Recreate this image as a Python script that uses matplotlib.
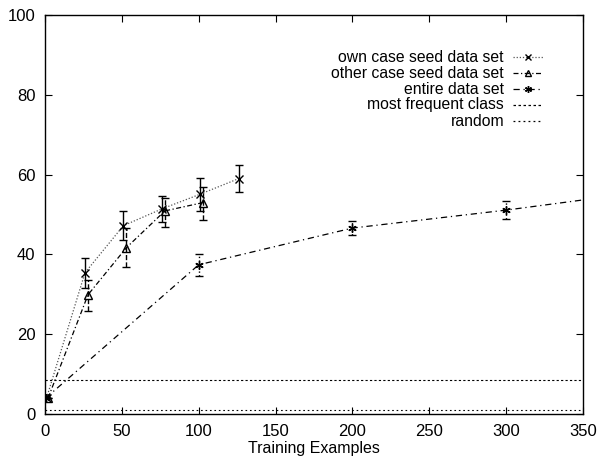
import matplotlib
matplotlib.use("Agg")
import matplotlib.pyplot as plt
from matplotlib.lines import Line2D

plt.rcParams["font.family"] = ["Liberation Sans", "DejaVu Sans"]

# own case seed data set
own_x = [1, 26, 51, 76, 101, 126]
own_y = [4.0, 35.4, 47.2, 51.4, 55.1, 59.0]
own_lo = [4.0, 31.6, 43.5, 48.0, 51.0, 55.6]
own_hi = [4.0, 39.1, 50.8, 54.6, 59.2, 62.5]

# other case seed data set
other_x = [2, 28, 53, 78, 103]
other_y = [4.0, 29.9, 41.7, 50.9, 53.0]
other_lo = [4.0, 25.9, 36.8, 46.9, 48.7]
other_hi = [4.0, 33.5, 46.5, 54.1, 57.0]

# entire data set
entire_x = [0.5, 100, 200, 300, 400]
entire_y = [4.0, 37.4, 46.6, 51.1, 56.2]
entire_lo = [4.0, 34.5, 44.9, 48.9, 53.5]
entire_hi = [4.0, 40.1, 48.3, 53.3, 59.0]

most_frequent = 8.5
random_level = 0.9

labels = ["own case seed data set", "other case seed data set", "entire data set",
          "most frequent class", "random"]

fig = plt.figure(figsize=(5.98, 4.58), dpi=100)
ax = fig.add_axes([45 / 598, 1 - 414 / 458, 538 / 598, 399 / 458])


def errs(y, lo, hi):
    return [[a - b for a, b in zip(y, lo)], [b - a for a, b in zip(y, hi)]]


styles = [
    (own_x, own_y, own_lo, own_hi, (0, (1, 1.5)), "x", "-", "#555555"),
    (other_x, other_y, other_lo, other_hi, (0, (4, 2, 1, 2)), "^", "--", "black"),
    (entire_x, entire_y, entire_lo, entire_hi, (0, (5, 3, 1, 3)), (6, 2, 0), ":", "black"),
]
keys = []
for xs, ys, lo, hi, ls, mk, els, lc in styles:
    ax.plot(xs, ys, linestyle=ls, color=lc, linewidth=0.9, marker=mk,
            markersize=6, markerfacecolor="none", markeredgecolor="black",
            markeredgewidth=1.0)
    eb = ax.errorbar(xs, ys, yerr=errs(ys, lo, hi), fmt="none", ecolor="black",
                     elinewidth=1.0, capsize=3, capthick=1.0)
    eb[2][0].set_linestyle(els)
    keys.append((ls, lc, mk))

flat_styles = [(0, (2, 2)), (0, (1.5, 2.5))]
for level, ls in zip([most_frequent, random_level], flat_styles):
    ax.axhline(level, color="black", linewidth=0.8, linestyle=ls)
    keys.append((ls, "black", None))

ax.set_xlim(0, 350)
ax.set_ylim(0, 100)
ax.set_xticks(range(0, 351, 50))
ax.set_yticks(range(0, 101, 20))
ax.tick_params(direction="in", top=True, right=True, length=5, width=0.8,
               labelsize=12, pad=7)
for sp in ax.spines.values():
    sp.set_linewidth(1.0)
ax.set_xlabel("Training Examples", fontsize=11.5, labelpad=2)

# gnuplot style key: right aligned text, sample to the right
rows_y = [57, 73, 89, 105, 121]
for (ls, lc, mk), lab, yp in zip(keys, labels, rows_y):
    yf = 1 - yp / 458
    fig.text(504 / 598, yf, lab, ha="right", va="center", fontsize=11.3)
    fig.add_artist(Line2D([513 / 598, 543 / 598], [yf, yf], transform=fig.transFigure,
                          linestyle=ls, color=lc, linewidth=0.9))
    if mk is not None:
        fig.add_artist(Line2D([528 / 598], [yf], transform=fig.transFigure,
                              linestyle="none", marker=mk, markersize=5,
                              markerfacecolor="none", markeredgecolor="black"))

fig.savefig("out.png", dpi=100)
